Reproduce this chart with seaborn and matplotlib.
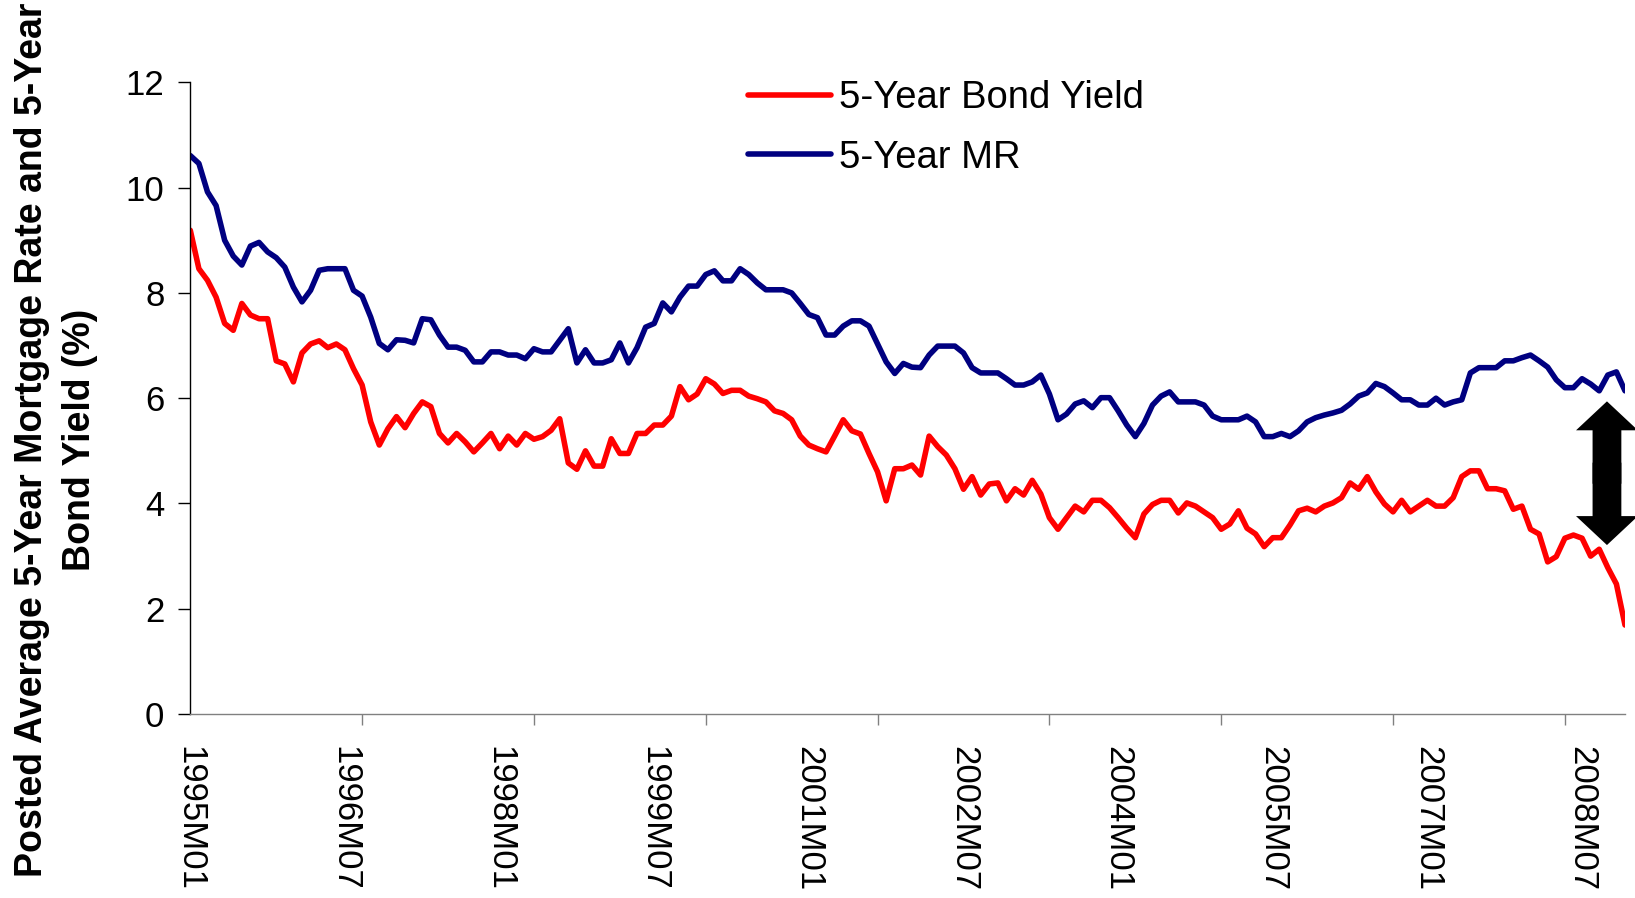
"""
plot.py - 5-year posted mortgage rate vs 5-year bond yield, monthly 1995-2008.
"""

import matplotlib
matplotlib.use("Agg")
import matplotlib.pyplot as plt
from matplotlib import font_manager
from matplotlib.patches import FancyArrow
import pandas as pd
import seaborn as sns

# monthly categories 1995M01 .. 2008M12
months = [f"{y}M{m:02d}" for y in range(1995, 2009) for m in range(1, 13)]

bond_yield = [
    9.19, 8.46, 8.24, 7.92, 7.42, 7.29, 7.80, 7.58, 7.51, 7.51,
    6.71, 6.65, 6.31, 6.86, 7.03, 7.09, 6.96, 7.03, 6.92, 6.56,
    6.25, 5.55, 5.11, 5.42, 5.65, 5.44, 5.71, 5.93, 5.84, 5.33,
    5.15, 5.33, 5.17, 4.98, 5.15, 5.33, 5.04, 5.28, 5.11, 5.33,
    5.22, 5.27, 5.39, 5.61, 4.77, 4.65, 5.00, 4.71, 4.71, 5.23,
    4.95, 4.95, 5.33, 5.33, 5.49, 5.49, 5.66, 6.22, 5.97, 6.08,
    6.37, 6.27, 6.09, 6.15, 6.15, 6.04, 5.99, 5.93, 5.76, 5.71,
    5.59, 5.28, 5.11, 5.04, 4.98, 5.28, 5.59, 5.38, 5.32, 4.95,
    4.60, 4.05, 4.66, 4.66, 4.73, 4.54, 5.28, 5.08, 4.92, 4.66,
    4.27, 4.51, 4.16, 4.37, 4.39, 4.05, 4.28, 4.16, 4.44, 4.18,
    3.73, 3.51, 3.73, 3.95, 3.84, 4.06, 4.06, 3.92, 3.73, 3.53,
    3.35, 3.80, 3.98, 4.06, 4.06, 3.82, 4.01, 3.95, 3.84, 3.73,
    3.51, 3.61, 3.86, 3.53, 3.42, 3.18, 3.35, 3.35, 3.59, 3.86,
    3.91, 3.84, 3.95, 4.01, 4.11, 4.39, 4.27, 4.51, 4.22, 3.99,
    3.84, 4.06, 3.84, 3.95, 4.06, 3.95, 3.95, 4.11, 4.51, 4.62,
    4.62, 4.28, 4.28, 4.24, 3.89, 3.95, 3.51, 3.42, 2.89, 2.99,
    3.34, 3.40, 3.34, 3.00, 3.13, 2.78, 2.47, 1.69,
]

mortgage_rate = [
    10.61, 10.46, 9.92, 9.66, 9.00, 8.70, 8.53, 8.89, 8.96, 8.78,
    8.67, 8.49, 8.11, 7.83, 8.05, 8.43, 8.46, 8.46, 8.46, 8.05,
    7.94, 7.54, 7.04, 6.92, 7.11, 7.10, 7.05, 7.51, 7.49, 7.20,
    6.97, 6.97, 6.91, 6.69, 6.69, 6.88, 6.88, 6.82, 6.82, 6.75,
    6.94, 6.88, 6.88, 7.10, 7.32, 6.67, 6.92, 6.67, 6.67, 6.73,
    7.05, 6.67, 6.96, 7.35, 7.42, 7.81, 7.64, 7.92, 8.13, 8.13,
    8.35, 8.42, 8.23, 8.23, 8.46, 8.35, 8.19, 8.06, 8.06, 8.06,
    8.00, 7.80, 7.59, 7.53, 7.20, 7.20, 7.37, 7.47, 7.47, 7.37,
    7.03, 6.69, 6.47, 6.66, 6.59, 6.58, 6.82, 6.99, 6.99, 6.99,
    6.86, 6.58, 6.48, 6.48, 6.48, 6.37, 6.25, 6.25, 6.31, 6.44,
    6.08, 5.59, 5.70, 5.89, 5.95, 5.82, 6.01, 6.01, 5.76, 5.49,
    5.27, 5.52, 5.87, 6.04, 6.12, 5.93, 5.93, 5.93, 5.87, 5.66,
    5.59, 5.59, 5.59, 5.66, 5.55, 5.27, 5.27, 5.33, 5.27, 5.38,
    5.55, 5.63, 5.68, 5.72, 5.77, 5.89, 6.04, 6.10, 6.28, 6.22,
    6.10, 5.97, 5.97, 5.87, 5.87, 6.00, 5.87, 5.93, 5.97, 6.48,
    6.58, 6.58, 6.58, 6.71, 6.71, 6.77, 6.82, 6.71, 6.59, 6.35,
    6.20, 6.20, 6.37, 6.27, 6.14, 6.44, 6.50, 6.14,
]

series_names = ["5-Year Bond Yield", "5-Year MR"]
series_colors = ["#FF0000", "#000080"]
y_ticks = [0, 2, 4, 6, 8, 10, 12]
label_step = 18   # a label every 18 months
tick_step = 20    # tick marks every 20 months

ylabel = "Posted Average 5-Year Mortgage Rate and 5-Year\nBond Yield (%)"

df = pd.DataFrame({
    "idx": range(len(months)),
    "month": months,
    series_names[0]: bond_yield,
    series_names[1]: mortgage_rate,
})
long_df = df.melt(id_vars=["idx", "month"], value_vars=series_names,
                  var_name="series", value_name="rate")

sns.set_style("white")
plt.rcParams["font.family"] = ["Liberation Sans", "DejaVu Sans"]
plt.rcParams["text.color"] = "black"

installed = {f.name for f in font_manager.fontManager.ttflist}
if "Liberation Sans Narrow" in installed:
    label_family, label_size = ["Liberation Sans Narrow", "Liberation Sans"], 32
else:
    label_family, label_size = ["Liberation Sans", "DejaVu Sans"], 27

W, H = 1635, 898
fig = plt.figure(figsize=(W / 100, H / 100), dpi=100)
ax = fig.add_axes([190.3 / W, 1 - 714 / H, (1625 - 190.3) / W, (714 - 82.4) / H])

sns.lineplot(data=long_df, x="idx", y="rate", hue="series",
             hue_order=series_names, palette=series_colors,
             linewidth=4.0, ax=ax)

ax.set_xlim(0, len(months) - 1)
ax.set_ylim(0, 12)
ax.set_xlabel("")
ax.set_ylabel("")

# labels every 18 months, tick marks every 20 months
label_pos = list(range(0, len(months), label_step))
ax.set_xticks(label_pos)
ax.set_xticklabels([months[i] for i in label_pos], rotation=-90, fontsize=25)
ax.set_xticks(range(0, len(months), tick_step), minor=True)
ax.tick_params(axis="x", which="major", length=0, pad=23, labelcolor="black")
ax.tick_params(axis="x", which="minor", length=8, width=1, color="#808080",
               direction="out", bottom=True)

ax.set_yticks(y_ticks)
ax.set_yticklabels([str(v) for v in y_ticks], fontsize=25)
ax.tick_params(axis="y", length=8.6, width=1, color="black", direction="out",
               pad=10, left=True, labelcolor="black")

for side in ["top", "right"]:
    ax.spines[side].set_visible(False)
ax.spines["left"].set_color("black")
ax.spines["left"].set_linewidth(1)
ax.spines["bottom"].set_color("#808080")
ax.spines["bottom"].set_linewidth(1)

handles, labels = ax.get_legend_handles_labels()
leg = ax.legend(handles, labels, loc="upper left",
                bbox_to_anchor=(748 / W, 1 - 80 / H), bbox_transform=fig.transFigure,
                frameon=False, fontsize=27.5, handlelength=2.17, handletextpad=0.2,
                labelspacing=0.62, borderpad=0, borderaxespad=0)
for t in leg.get_texts():
    t.set_color("black")

# double-headed block arrow marking the spread at the end
arrow_x, arrow_top, arrow_bottom = 164.9, 5.94, 3.21
arrow_mid = (arrow_top + arrow_bottom) / 2
for end, start in ((arrow_top, arrow_mid - 0.2), (arrow_bottom, arrow_mid + 0.2)):
    ax.add_patch(FancyArrow(arrow_x, start, 0, end - start,
                            width=3.35, head_width=7.2, head_length=0.55,
                            length_includes_head=True, color="black",
                            linewidth=0, clip_on=False))

fig.text(56 / W, 1 - 440 / H, ylabel, rotation=90, ha="center", va="center",
         multialignment="center", fontsize=label_size, fontweight="bold",
         family=label_family, linespacing=1.4)

fig.savefig("out.png", dpi=100)
plt.close(fig)
